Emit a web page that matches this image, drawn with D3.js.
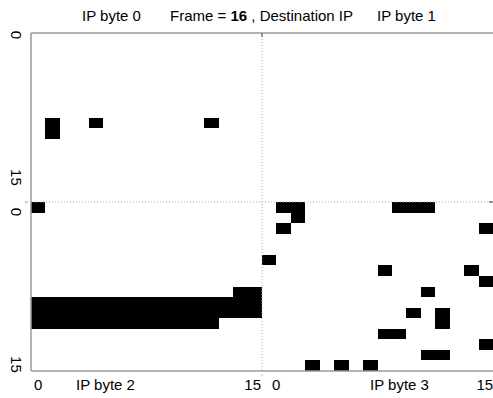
<!DOCTYPE html>
<html>
<head>
<meta charset="utf-8">
<script src="https://cdn.jsdelivr.net/npm/d3@7/dist/d3.min.js"></script>
<style>
  html, body { margin: 0; padding: 0; background: #fff; }
  svg text { font-family: "Liberation Sans", Arial, Helvetica, sans-serif; fill: #000; }
</style>
</head>
<body>
<svg id="chart" width="493" height="398"></svg>
<script>
// Active cells (row, col) of each 16x16 byte map, Destination IP, frame 16
const byte0Cells = [[8, 1], [8, 4], [8, 12], [9, 1]];
const byte1Cells = [];
const byte2Cells = [
  [0, 0],
  [8, 14], [8, 15],
  [9, 0], [9, 1], [9, 2], [9, 3], [9, 4], [9, 5], [9, 6], [9, 7], [9, 8], [9, 9], [9, 10], [9, 11], [9, 12], [9, 13], [9, 14], [9, 15],
  [10, 0], [10, 1], [10, 2], [10, 3], [10, 4], [10, 5], [10, 6], [10, 7], [10, 8], [10, 9], [10, 10], [10, 11], [10, 12], [10, 13], [10, 14], [10, 15],
  [11, 0], [11, 1], [11, 2], [11, 3], [11, 4], [11, 5], [11, 6], [11, 7], [11, 8], [11, 9], [11, 10], [11, 11], [11, 12]
];
const byte3Cells = [
  [0, 1], [0, 2], [0, 9], [0, 10], [0, 11],
  [1, 2],
  [2, 1], [2, 15],
  [5, 0],
  [6, 8], [6, 14],
  [7, 15],
  [8, 11],
  [10, 10], [10, 12],
  [11, 12],
  [12, 8], [12, 9],
  [13, 15],
  [14, 11], [14, 12],
  [15, 3], [15, 5], [15, 7]
];
const frameNumber = "16";
const fieldName = "Destination IP";
const byteTitles = ["IP byte 0", "IP byte 1", "IP byte 2", "IP byte 3"];
const tickLabels = ["0", "15"];

// Each byte map occupies one quadrant of the 32x32 grid
const quadrants = [
  { cells: byte0Cells, r0: 0, c0: 0 },
  { cells: byte1Cells, r0: 0, c0: 16 },
  { cells: byte2Cells, r0: 16, c0: 0 },
  { cells: byte3Cells, r0: 16, c0: 16 }
];

const svg = d3.select("#chart");
const plotLeft = 31, plotRight = 493, plotTop = 33, plotBottom = 371;

const idx = d3.range(32);
const x = d3.scaleBand().domain(idx).range([plotLeft, plotRight]).padding(0);
const y = d3.scaleBand().domain(idx).range([plotTop, plotBottom]).padding(0);

const cells = quadrants.flatMap(q => q.cells.map(([r, c]) => ({ row: r + q.r0, col: c + q.c0 })));

// Filled cells, snapped to whole pixels so neighbouring cells merge into solid blocks
const px = v => Math.round(v);
svg.append("g")
  .attr("shape-rendering", "crispEdges")
  .selectAll("rect")
  .data(cells)
  .join("rect")
  .attr("x", d => px(x(d.col)))
  .attr("y", d => px(y(d.row)))
  .attr("width", d => px(x(d.col) + x.bandwidth()) - px(x(d.col)))
  .attr("height", d => px(y(d.row) + y.bandwidth()) - px(y(d.row)))
  .attr("fill", "#000");

// Quadrant dividers
const midX = x(16), midY = y(16);
svg.append("line")
  .attr("x1", midX).attr("x2", midX).attr("y1", plotTop).attr("y2", plotBottom)
  .attr("stroke", "#aaa").attr("stroke-width", 1).attr("stroke-dasharray", "1,2");
svg.append("line")
  .attr("x1", plotLeft).attr("x2", plotRight).attr("y1", midY).attr("y2", midY)
  .attr("stroke", "#aaa").attr("stroke-width", 1).attr("stroke-dasharray", "1,2");

// Frame lines
const frame = svg.append("g").attr("stroke", "#9a9a9a").attr("stroke-width", 1.5).attr("fill", "none");
frame.append("line").attr("x1", plotLeft).attr("x2", plotLeft).attr("y1", plotTop).attr("y2", plotBottom);
frame.append("line").attr("x1", plotLeft).attr("x2", plotRight).attr("y1", plotTop).attr("y2", plotTop);
frame.append("line").attr("x1", plotLeft).attr("x2", plotRight).attr("y1", plotBottom).attr("y2", plotBottom);

// Small tick marks on the dividers
const ticks = svg.append("g").attr("stroke", "#777").attr("stroke-width", 1.5);
ticks.append("line").attr("x1", midX).attr("x2", midX).attr("y1", plotTop).attr("y2", plotTop + 4);
ticks.append("line").attr("x1", plotRight - 4).attr("x2", plotRight).attr("y1", midY).attr("y2", midY);
ticks.append("line").attr("x1", plotLeft - 6).attr("x2", plotLeft - 3).attr("y1", midY).attr("y2", midY).attr("stroke", "#999").attr("stroke-width", 1);
ticks.append("line").attr("x1", midX).attr("x2", midX).attr("y1", plotBottom + 3).attr("y2", plotBottom + 5).attr("stroke", "#bbb").attr("stroke-width", 1);

// Title row
const fs = 15;
const title = svg.append("g").attr("font-size", fs);
title.append("text").attr("x", 82).attr("y", 21).text(byteTitles[0]);
const mid = title.append("text").attr("x", 170).attr("y", 21);
mid.append("tspan").text("Frame = ");
mid.append("tspan").attr("font-weight", "bold").text(frameNumber);
mid.append("tspan").text(" , " + fieldName);
title.append("text").attr("x", 377).attr("y", 21).text(byteTitles[1]);

// Bottom labels
const bl = svg.append("g").attr("font-size", fs);
const by = 390;
bl.append("text").attr("x", x(0) + x.bandwidth() / 2).attr("y", by).attr("text-anchor", "middle").text(tickLabels[0]);
bl.append("text").attr("x", 76).attr("y", by).text(byteTitles[2]);
bl.append("text").attr("x", x(15) + x.bandwidth() - 1).attr("y", by).attr("text-anchor", "end").text(tickLabels[1]);
bl.append("text").attr("x", x(16) + 10).attr("y", by).text(tickLabels[0]);
bl.append("text").attr("x", 370).attr("y", by).text(byteTitles[3]);
bl.append("text").attr("x", x(31) + x.bandwidth() / 2 - 1).attr("y", by).attr("text-anchor", "middle").text(tickLabels[1]);

// Left labels, rotated clockwise
const yLabels = [
  { t: tickLabels[0], c: y(0) + 2 },
  { t: tickLabels[1], c: y(15) - 14 },
  { t: tickLabels[0], c: y(16) + 10 },
  { t: tickLabels[1], c: y(31) + 4 }
];
svg.append("g").attr("font-size", fs)
  .selectAll("text")
  .data(yLabels)
  .join("text")
  .attr("text-anchor", "middle")
  .attr("transform", d => `translate(11,${d.c}) rotate(90)`)
  .text(d => d.t);
</script>
</body>
</html>
